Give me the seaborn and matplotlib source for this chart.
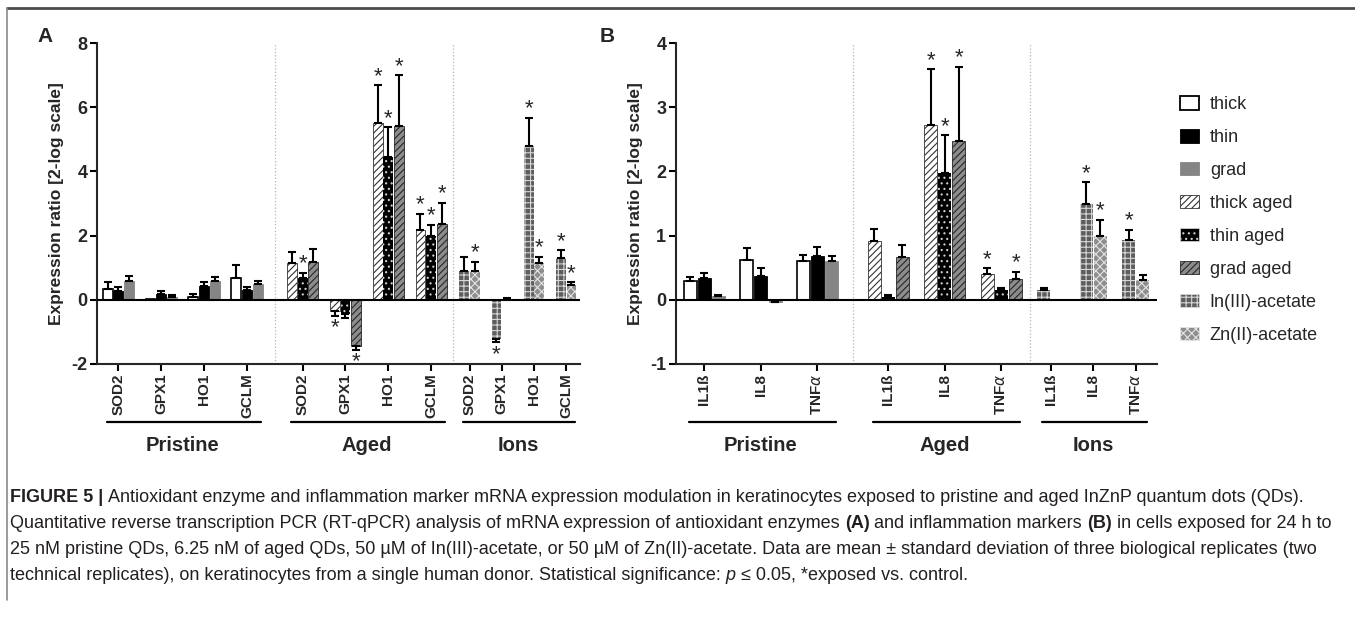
import matplotlib
matplotlib.use("Agg")
import matplotlib.pyplot as plt
import numpy as np
import pandas as pd
import seaborn as sns
from matplotlib import font_manager
from matplotlib.patches import Patch

# ---- data ----
series_names = ["thick", "thin", "grad", "thick aged", "thin aged", "grad aged",
                "In(III)-acetate", "Zn(II)-acetate"]
group_names = ["Pristine", "Aged", "Ions"]
group_series = [["thick", "thin", "grad"],
                ["thick aged", "thin aged", "grad aged"],
                ["In(III)-acetate", "Zn(II)-acetate"]]

genes_a = ["SOD2", "GPX1", "HO1", "GCLM"]
genes_b = ["IL1ß", "IL8", "TNF$\\alpha$"]

# panel A (antioxidant enzymes)
a_thick = [0.33, 0.01, 0.10, 0.68]
a_thick_sd = [0.24, 0.00, 0.09, 0.39]
a_thin = [0.28, 0.17, 0.44, 0.31]
a_thin_sd = [0.13, 0.09, 0.11, 0.09]
a_grad = [0.59, 0.08, 0.59, 0.50]
a_grad_sd = [0.16, 0.07, 0.13, 0.08]
a_thick_aged = [1.14, -0.36, 5.50, 2.18]
a_thick_aged_sd = [0.35, 0.14, 1.18, 0.49]
a_thick_aged_sig = [0, 1, 1, 1]
a_thin_aged = [0.68, -0.45, 4.46, 1.99]
a_thin_aged_sd = [0.17, 0.13, 0.91, 0.35]
a_thin_aged_sig = [1, 0, 1, 1]
a_grad_aged = [1.17, -1.43, 5.40, 2.36]
a_grad_aged_sd = [0.41, 0.13, 1.59, 0.67]
a_grad_aged_sig = [0, 1, 1, 1]
a_in = [0.90, -1.22, 4.80, 1.30]
a_in_sd = [0.43, 0.11, 0.86, 0.24]
a_in_sig = [0, 1, 1, 1]
a_zn = [0.90, 0.04, 1.14, 0.47]
a_zn_sd = [0.29, 0.02, 0.19, 0.07]
a_zn_sig = [1, 0, 1, 1]

# panel B (inflammation markers)
b_thick = [0.30, 0.62, 0.61]
b_thick_sd = [0.05, 0.18, 0.09]
b_thin = [0.34, 0.37, 0.69]
b_thin_sd = [0.08, 0.12, 0.14]
b_grad = [0.06, -0.03, 0.61]
b_grad_sd = [0.01, 0.01, 0.08]
b_thick_aged = [0.92, 2.72, 0.40]
b_thick_aged_sd = [0.18, 0.87, 0.09]
b_thick_aged_sig = [0, 1, 1]
b_thin_aged = [0.05, 1.97, 0.15]
b_thin_aged_sd = [0.03, 0.59, 0.03]
b_thin_aged_sig = [0, 1, 0]
b_grad_aged = [0.67, 2.47, 0.33]
b_grad_aged_sd = [0.19, 1.16, 0.10]
b_grad_aged_sig = [0, 1, 1]
b_in = [0.15, 1.50, 0.93]
b_in_sd = [0.04, 0.33, 0.16]
b_in_sig = [0, 1, 1]
b_zn = [-0.02, 0.99, 0.31]
b_zn_sd = [0.00, 0.25, 0.07]
b_zn_sig = [0, 1, 0]

# ---- styles ----
bar_styles = {
    "thick": dict(fc="white", ec="black", hatch=None, lw=1.2),
    "thin": dict(fc="black", ec="black", hatch=None, lw=0.6),
    "grad": dict(fc="#858585", ec="#858585", hatch=None, lw=0.6),
    "thick aged": dict(fc="white", ec="#333333", hatch="/////", lw=0.6),
    "thin aged": dict(fc="black", ec="#cfcfcf", hatch="...", lw=0.0),
    "grad aged": dict(fc="#8c8c8c", ec="#262626", hatch="/////", lw=0.6),
    "In(III)-acetate": dict(fc="#5e5e5e", ec="#d6d6d6", hatch="+++", lw=0.0),
    "Zn(II)-acetate": dict(fc="#8e8e8e", ec="#e4e4e4", hatch="xxxx", lw=0.0),
}

sns.set_style("ticks")
plt.rcParams["font.family"] = ["Liberation Sans", "DejaVu Sans"]
plt.rcParams["hatch.linewidth"] = 0.8
plt.rcParams["axes.linewidth"] = 1.5


def panel_frame(genes, layout, mean, sd, sig):
    rows = []
    for (start, step), gname, members in zip(layout, group_names, group_series):
        n = len(members)
        for i, gene in enumerate(genes):
            for j, s in enumerate(members):
                rows.append(dict(group=gname, gene=gene, series=s,
                                 pos=start + i * step + (j - (n - 1) / 2),
                                 value=mean[s][i], sd=sd[s][i],
                                 sig=sig.get(s, [0] * len(genes))[i]))
    return pd.DataFrame(rows)


def draw_panel(ax, df, genes, layout, ylim, yticks, xmax):
    sns.barplot(data=df, x="pos", y="value", hue="series", hue_order=series_names,
                palette={s: bar_styles[s]["fc"] for s in series_names},
                native_scale=True, dodge=False, width=0.92, errorbar=None,
                saturation=1, legend=False, ax=ax, zorder=2)
    for p in ax.patches:
        c = p.get_x() + p.get_width() / 2
        s = df.series.iloc[np.argmin(np.abs(df.pos.values - c))]
        st = bar_styles[s]
        p.set_facecolor(st["fc"])
        p.set_edgecolor(st["ec"])
        p.set_linewidth(st["lw"])
        if st["hatch"]:
            p.set_hatch(st["hatch"])

    for _, r in df.iterrows():
        if r.sd > 0:
            yerr = [[0], [r.sd]] if r.value >= 0 else [[r.sd], [0]]
            ax.errorbar(r.pos, r.value, yerr=yerr, fmt="none", ecolor="black",
                        elinewidth=1.5, capsize=3, capthick=1.5, zorder=3)
        if r.sig:
            if r.value >= 0:
                ax.annotate("*", (r.pos, r.value + r.sd), xytext=(0, -1),
                            textcoords="offset points", ha="center", va="bottom",
                            fontsize=16)
            else:
                ax.annotate("*", (r.pos, r.value - r.sd), xytext=(0, -1),
                            textcoords="offset points", ha="center", va="top",
                            fontsize=16)

    ax.axhline(0, color="black", lw=1.5, zorder=4)

    # ticks, dividers, group labels
    ticks, labels = [], []
    edges = []
    for (start, step), members in zip(layout, group_series):
        n = len(members)
        for i, g in enumerate(genes):
            ticks.append(start + i * step)
            labels.append(g)
        edges.append((start - n / 2, start + (len(genes) - 1) * step + n / 2))
    for (l0, r0), (l1, r1) in zip(edges[:-1], edges[1:]):
        ax.axvline((r0 + l1) / 2, color="#b5b5b5", lw=0.9, ls=":", zorder=1)
    trans = ax.get_xaxis_transform()
    for (l, r), gname in zip(edges, group_names):
        ax.plot([l + 0.4, r - 0.2], [-0.18, -0.18], color="black", lw=1.6,
                transform=trans, clip_on=False)
        ax.text((l + r) / 2, -0.255, gname, transform=trans, ha="center",
                va="center", fontsize=14.5, fontweight="bold")

    ax.set_xticks(ticks)
    ax.set_xticklabels(labels, rotation=90, fontsize=11, fontweight="bold")
    ax.set_xlim(0, xmax)
    ax.set_ylim(*ylim)
    ax.set_yticks(yticks)
    ax.set_yticklabels([str(t) for t in yticks], fontsize=13, fontweight="bold")
    ax.tick_params(axis="both", length=5, width=1.5, color="black", pad=2)
    ax.set_xlabel("")
    ax.set_ylabel("Expression ratio [2-log scale]", fontsize=12.5,
                  fontweight="bold", labelpad=5)
    sns.despine(ax=ax)


fig = plt.figure(figsize=(13.55, 6.17), dpi=100)
W, H = 1355, 617
ax_a = fig.add_axes([97 / W, 1 - 364 / H, 483 / W, 321 / H])
ax_b = fig.add_axes([676 / W, 1 - 364 / H, 481 / W, 321 / H])

layout_a = [(2.0, 4.0), (19.2, 4.0), (34.8, 3.0)]
layout_b = [(2.0, 4.0), (15.0, 4.0), (26.5, 3.0)]

mean_a = dict(zip(series_names, [a_thick, a_thin, a_grad, a_thick_aged, a_thin_aged,
                                 a_grad_aged, a_in, a_zn]))
sd_a = dict(zip(series_names, [a_thick_sd, a_thin_sd, a_grad_sd, a_thick_aged_sd,
                               a_thin_aged_sd, a_grad_aged_sd, a_in_sd, a_zn_sd]))
sig_a = dict(zip(series_names[3:], [a_thick_aged_sig, a_thin_aged_sig, a_grad_aged_sig,
                                    a_in_sig, a_zn_sig]))
mean_b = dict(zip(series_names, [b_thick, b_thin, b_grad, b_thick_aged, b_thin_aged,
                                 b_grad_aged, b_in, b_zn]))
sd_b = dict(zip(series_names, [b_thick_sd, b_thin_sd, b_grad_sd, b_thick_aged_sd,
                               b_thin_aged_sd, b_grad_aged_sd, b_in_sd, b_zn_sd]))
sig_b = dict(zip(series_names[3:], [b_thick_aged_sig, b_thin_aged_sig, b_grad_aged_sig,
                                    b_in_sig, b_zn_sig]))

df_a = panel_frame(genes_a, layout_a, mean_a, sd_a, sig_a)
df_b = panel_frame(genes_b, layout_b, mean_b, sd_b, sig_b)
draw_panel(ax_a, df_a, genes_a, layout_a, (-2, 8), [-2, 0, 2, 4, 6, 8], 45.1)
draw_panel(ax_b, df_b, genes_b, layout_b, (-1, 4), [-1, 0, 1, 2, 3, 4], 34.0)

fig.text(45 / W, 1 - 37 / H, "A", fontsize=15, fontweight="bold", ha="center", va="center")
fig.text(607 / W, 1 - 37 / H, "B", fontsize=15, fontweight="bold", ha="center", va="center")

# legend
handles = [Patch(facecolor=bar_styles[s]["fc"], edgecolor=bar_styles[s]["ec"],
                 hatch=bar_styles[s]["hatch"], linewidth=max(bar_styles[s]["lw"], 0.6))
           for s in series_names]
handles[0].set_linewidth(1.3)
fig.legend(handles, series_names, loc="upper left", bbox_to_anchor=(1180 / W, 1 - 96 / H),
           frameon=False, fontsize=13, handlelength=1.05, handleheight=0.78,
           handletextpad=0.6, labelspacing=0.88, borderpad=0, borderaxespad=0)

# frame lines
fig.add_artist(plt.Line2D([7 / W, 1], [1 - 8 / H, 1 - 8 / H], color="#4d4d4d", lw=2,
                          transform=fig.transFigure))
fig.add_artist(plt.Line2D([7 / W, 7 / W], [1 - 8 / H, 1 - 600 / H], color="#8a8a8a",
                          lw=1.2, transform=fig.transFigure))

# caption with mixed formatting
names = {f.name for f in font_manager.fontManager.ttflist}
cap_family = "Liberation Sans Narrow" if "Liberation Sans Narrow" in names else "Liberation Sans"
renderer = fig.canvas.get_renderer()

caption = [
    [("FIGURE 5 | ", "bold", "normal"),
     ("Antioxidant enzyme and inflammation marker mRNA expression modulation in keratinocytes "
      "exposed to pristine and aged InZnP quantum dots (QDs).", "normal", "normal")],
    [("Quantitative reverse transcription PCR (RT-qPCR) analysis of mRNA expression of "
      "antioxidant enzymes ", "normal", "normal"), ("(A)", "bold", "normal"),
     (" and inflammation markers ", "normal", "normal"), ("(B)", "bold", "normal"),
     (" in cells exposed for 24 h to", "normal", "normal")],
    [("25 nM pristine QDs, 6.25 nM of aged QDs, 50 µM of In(III)-acetate, or 50 µM of "
      "Zn(II)-acetate. Data are mean ± standard deviation of three biological replicates (two",
      "normal", "normal")],
    [("technical replicates), on keratinocytes from a single human donor. Statistical "
      "significance: ", "normal", "normal"), ("p", "normal", "italic"),
     (" ≤ 0.05, *exposed vs. control.", "normal", "normal")],
]


def seg_width(s, size, weight, style):
    def w(txt):
        t = fig.text(0, 0, txt, fontsize=size, fontweight=weight, fontstyle=style,
                     family=[cap_family, "DejaVu Sans"])
        v = t.get_window_extent(renderer).width
        t.remove()
        return v
    return w("|" + s + "|") - w("||")


ref = sum(seg_width(s, 10, wt, st) for s, wt, st in caption[1])
cap_size = 10 * 1328 / ref
for k, line in enumerate(caption):
    x = 10
    y = 1 - (502 + 26 * k) / H
    for s, wt, st in line:
        fig.text(x / W, y, s, fontsize=cap_size, fontweight=wt, fontstyle=st,
                 family=[cap_family, "DejaVu Sans"], color="#231f20", va="baseline")
        x += seg_width(s, cap_size, wt, st)

fig.savefig("out.png", dpi=100)
